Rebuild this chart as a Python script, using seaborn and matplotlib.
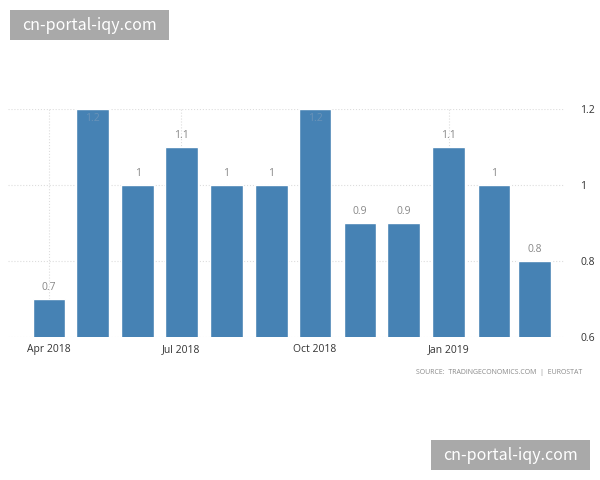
import matplotlib
matplotlib.use("Agg")
import matplotlib.pyplot as plt
import matplotlib.dates as mdates
from matplotlib.patches import Rectangle
from datetime import date
import seaborn as sns

months = [date(2018,4,1), date(2018,5,1), date(2018,6,1), date(2018,7,1), date(2018,8,1), date(2018,9,1),
          date(2018,10,1), date(2018,11,1), date(2018,12,1), date(2019,1,1), date(2019,2,1), date(2019,3,1)]
values = [0.7, 1.2, 1, 1.1, 1, 1, 1.2, 0.9, 0.9, 1.1, 1, 0.8]
value_labels = ["0.7", "1.2", "1", "1.1", "1", "1", "1.2", "0.9", "0.9", "1.1", "1", "0.8"]
tick_dates = [date(2018,4,1), date(2018,7,1), date(2018,10,1), date(2019,1,1)]
tick_labels = ["Apr 2018", "Jul 2018", "Oct 2018", "Jan 2019"]
y_ticks = [0.6, 0.8, 1, 1.2]
y_labels = ["0.6", "0.8", "1", "1.2"]
source = "SOURCE:  TRADINGECONOMICS.COM  |  EUROSTAT"
mark = "cn-portal-iqy.com"

W, H = 600, 480
sns.set_theme(style="white")
plt.rcParams["font.family"] = ["Open Sans", "DejaVu Sans"]
fig = plt.figure(figsize=(6, 4.8), dpi=100, facecolor="white")
L, R, T, B = 8, 565, 109, 337
ax = fig.add_axes([L/W, 1-B/H, (R-L)/W, (B-T)/H])

x = [mdates.date2num(d) for d in months]
sns.barplot(x=x, y=values, native_scale=True, color="#4682b4", saturation=1, width=0.8, ax=ax, zorder=3)

scale = 485.5 / (x[-1] - x[0])
ax.set_xlim(x[0] - (49 - L)/scale, x[0] + (R - 49)/scale)
ax.set_ylim(0.6, 1.2)
ax.set_xlabel(""); ax.set_ylabel("")
ax.set_xticks([mdates.date2num(d) for d in tick_dates], tick_labels, fontsize=7.5, color="#333333")
ax.set_yticks(y_ticks, y_labels, fontsize=7.5, color="#333333")
ax.yaxis.tick_right()
ax.tick_params(axis="x", length=0, pad=5)
ax.tick_params(axis="y", length=0, pad=11)
ax.grid(True, color="#dddddd", linestyle=":", linewidth=0.8, zorder=0)
ax.set_axisbelow(True)
for s in ax.spines.values():
    s.set_visible(False)

for xi, v, lab in zip(x, values, value_labels):
    if v >= 1.2:
        ax.annotate(lab, (xi, v), xytext=(0, -7), textcoords="offset points", ha="center", va="center",
                    fontsize=7.5, color="#6a93b8", zorder=5)
    else:
        ax.annotate(lab, (xi, v), xytext=(0, 8), textcoords="offset points", ha="center", va="center",
                    fontsize=7.5, color="#888888", zorder=5)

fig.text(582/W, 1-372.5/H, source, ha="right", va="center", fontsize=5, color="#8a8a8a")

for x0, y0 in [(10, 10), (431, 440)]:
    fig.add_artist(Rectangle((x0/W, 1-(y0+30)/H), 159/W, 30/H, transform=fig.transFigure,
                             facecolor="#a9a9a9", edgecolor="none"))
    fig.text((x0+79.5)/W, 1-(y0+15)/H, mark, ha="center", va="center", fontsize=11.5, color="white",
             family=["Noto Sans CJK SC", "DejaVu Sans"])

fig.savefig("out.png", dpi=100)
